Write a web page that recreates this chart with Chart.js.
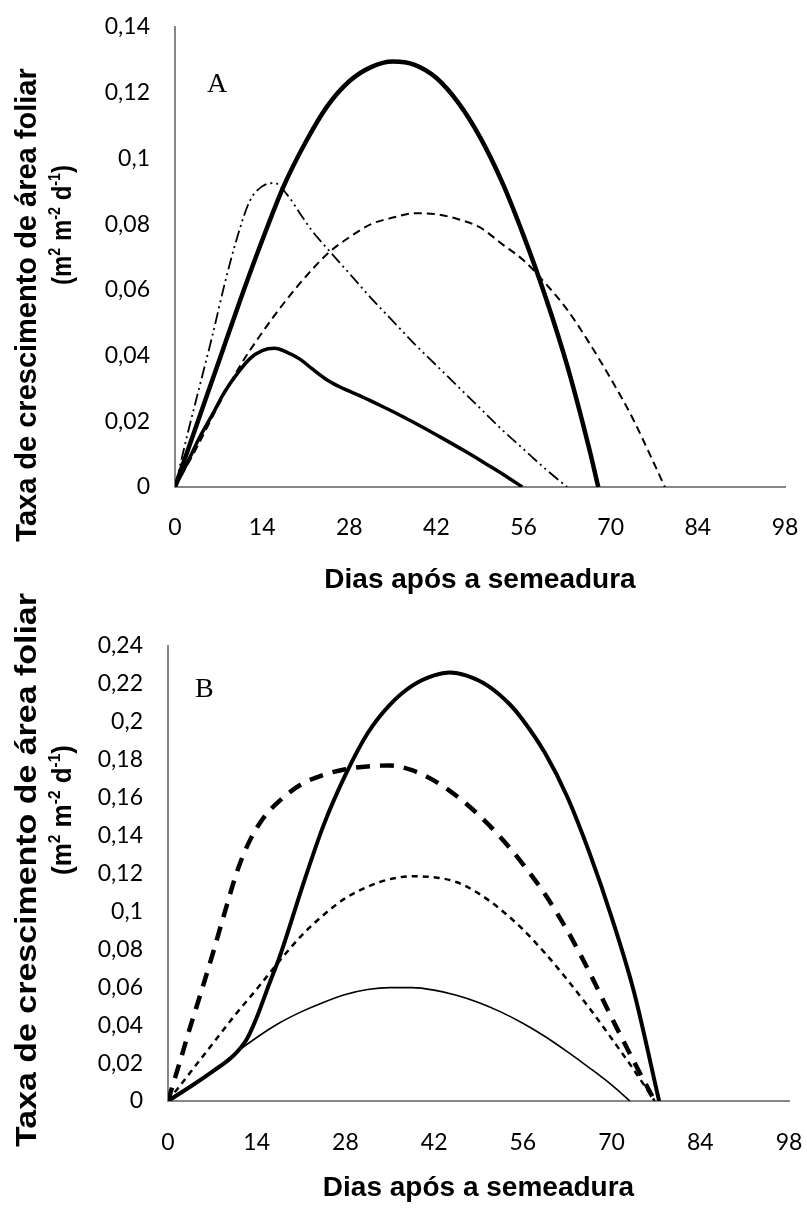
<!DOCTYPE html>
<html>
<head>
<meta charset="utf-8">
<script src="https://cdn.jsdelivr.net/npm/chart.js@4.4.1/dist/chart.umd.min.js"></script>
<style>
  body { margin: 0; background: #fff; }
  .panel { position: absolute; left: 0; width: 807px; }
  #panelA { top: 0; height: 604px; }
  #panelB { top: 560px; height: 648px; }
</style>
</head>
<body>
<div class="panel" id="panelA"><canvas id="chartA"></canvas></div>
<div class="panel" id="panelB"><canvas id="chartB"></canvas></div>
<script>
// eixos
const xTicks = [0, 14, 28, 42, 56, 70, 84, 98];
const yTickValsA = [0, 0.02, 0.04, 0.06, 0.08, 0.1, 0.12, 0.14];
const yTickLabelsA = ["0", "0,02", "0,04", "0,06", "0,08", "0,1", "0,12", "0,14"];
const yTickValsB = [0, 0.02, 0.04, 0.06, 0.08, 0.1, 0.12, 0.14, 0.16, 0.18, 0.2, 0.22, 0.24];
const yTickLabelsB = ["0", "0,02", "0,04", "0,06", "0,08", "0,1", "0,12", "0,14", "0,16", "0,18", "0,2", "0,22", "0,24"];
const xTitle = "Dias após a semeadura";
const yTitle = "Taxa de crescimento de área foliar";
// (m2 m-2 d-1) -> [texto, sobrescrito]
const yUnit = [["(m", false], ["2", true], [" m", false], ["-2", true], [" d", false], ["-1", true], [")", false]];

// Painel A
const daysA1 = [0, 3.5, 7, 10.5, 14, 17.5, 21, 24.5, 28, 31.5, 35, 38.5, 42, 45.5, 49, 52.5, 56, 59.5, 63, 66.5, 68];
const valsA1 = [0, 0.019, 0.038, 0.057, 0.075, 0.0917, 0.105, 0.116, 0.1235, 0.1278, 0.1295, 0.1285, 0.1245, 0.117, 0.1065, 0.093, 0.0765, 0.058, 0.037, 0.012, 0];
const daysA2 = [0, 3.5, 7, 10.5, 14, 17.5, 21, 24.5, 28, 31.5, 35, 38.5, 42, 45.5, 49, 52.5, 56, 59.5, 63, 66.5, 70, 73.5, 77, 78.7];
const valsA2 = [0, 0.012, 0.025, 0.037, 0.047, 0.056, 0.064, 0.071, 0.076, 0.08, 0.082, 0.0833, 0.083, 0.0815, 0.079, 0.074, 0.069, 0.062, 0.054, 0.044, 0.033, 0.021, 0.007, 0];
const daysA3 = [0, 2, 4, 6, 8, 10, 12, 14, 16, 18, 20, 22, 24.5, 28, 31.5, 35, 38.5, 42, 45.5, 49, 52.5, 56, 59.5, 63];
const valsA3 = [0, 0.016, 0.031, 0.046, 0.062, 0.076, 0.087, 0.0915, 0.0925, 0.089, 0.0835, 0.078, 0.0725, 0.065, 0.0575, 0.0505, 0.0435, 0.037, 0.0305, 0.024, 0.0175, 0.0115, 0.0055, 0];
const daysA4 = [0, 2, 4, 6, 8, 10, 12, 14, 16, 18, 20, 22, 24.5, 27, 30, 33, 36, 39.5, 43, 46.5, 50, 53, 55.8];
const valsA4 = [0, 0.0075, 0.0153, 0.022, 0.029, 0.0345, 0.039, 0.0415, 0.0422, 0.041, 0.039, 0.036, 0.0325, 0.03, 0.0275, 0.0248, 0.022, 0.0185, 0.0148, 0.011, 0.007, 0.0035, 0];

// Painel B
const daysB1 = [0, 3.5, 7, 10.5, 12.5, 14, 16, 17.5, 19, 21, 24.5, 28, 31.5, 35, 38.5, 42, 44.5, 47, 50.5, 54, 56, 59.5, 63, 66.5, 70, 73.5, 77.5];
const valsB1 = [0, 0.0075, 0.0155, 0.0245, 0.033, 0.044, 0.062, 0.075, 0.09, 0.111, 0.145, 0.172, 0.194, 0.209, 0.219, 0.2245, 0.226, 0.2245, 0.219, 0.209, 0.201, 0.1835, 0.1605, 0.131, 0.097, 0.058, 0];
const daysB2 = [0, 1, 2, 3.5, 5, 7, 9, 11, 13, 15, 17.5, 21, 24.5, 28, 31.5, 35, 38.5, 42, 45.5, 49, 52.5, 56, 59.5, 63, 66.5, 70, 73.5, 76.8];
const valsB2 = [0, 0.011, 0.022, 0.039, 0.055, 0.077, 0.1, 0.122, 0.138, 0.149, 0.158, 0.167, 0.172, 0.175, 0.1765, 0.177, 0.1745, 0.169, 0.161, 0.151, 0.139, 0.125, 0.109, 0.09, 0.068, 0.044, 0.021, 0];
const daysB3 = [0, 3.5, 7, 10.5, 14, 17.5, 21, 24.5, 28, 31.5, 35, 38.5, 42, 45.5, 49, 52.5, 56, 59.5, 63, 66.5, 70, 73.5, 76.8];
const valsB3 = [0, 0.015, 0.03, 0.045, 0.059, 0.0735, 0.087, 0.098, 0.107, 0.113, 0.117, 0.1185, 0.118, 0.1155, 0.1095, 0.101, 0.0905, 0.078, 0.064, 0.049, 0.033, 0.0165, 0];
const daysB4 = [0, 3.5, 7, 10.5, 14, 17.5, 21, 24.5, 28, 31.5, 35, 38.5, 42, 45.5, 49, 52.5, 56, 59.5, 63, 66.5, 70, 72.9];
const valsB4 = [0, 0.008, 0.0155, 0.025, 0.0335, 0.041, 0.047, 0.052, 0.0562, 0.0588, 0.0598, 0.0598, 0.0585, 0.0558, 0.052, 0.047, 0.041, 0.034, 0.026, 0.0175, 0.0085, 0];

function pts(days, vals) {
  return days.map((d, i) => ({ x: d, y: vals[i] }));
}

function serie(days, vals, width, dash) {
  return {
    data: pts(days, vals),
    borderColor: "#000",
    borderWidth: width,
    borderDash: dash,
    borderCapStyle: "butt",
    borderJoinStyle: "round",
    pointRadius: 0,
    fill: false,
    cubicInterpolationMode: "monotone",
  };
}

// letra do painel e titulo do eixo y (duas linhas, com sobrescritos)
const panelText = {
  id: "panelText",
  afterDraw(chart, args, o) {
    const ctx = chart.ctx;
    ctx.save();
    ctx.fillStyle = "#000";
    ctx.textBaseline = "alphabetic";
    ctx.font = '28px "Liberation Serif"';
    ctx.fillText(o.letter, o.letterX, o.letterY);

    ctx.textAlign = "center";
    ctx.save();
    ctx.translate(o.line1X, o.line1Y);
    ctx.rotate(-Math.PI / 2);
    ctx.scale(o.stretch, 1);
    ctx.font = 'bold 29px "Liberation Sans"';
    ctx.fillText(yTitle, 0, 0);
    ctx.restore();

    ctx.save();
    ctx.translate(o.line2X, o.line2Y);
    ctx.rotate(-Math.PI / 2);
    ctx.textAlign = "left";
    const big = 'bold 27px "Liberation Sans"';
    const small = 'bold 16px "Liberation Sans"';
    let total = 0;
    yUnit.forEach(([t, sup]) => {
      ctx.font = sup ? small : big;
      total += ctx.measureText(t).width;
    });
    ctx.scale(o.line2Len / total, 1);
    let x = -total / 2;
    yUnit.forEach(([t, sup]) => {
      ctx.font = sup ? small : big;
      ctx.fillText(t, x, sup ? -11 : 0);
      x += ctx.measureText(t).width;
    });
    ctx.restore();
    ctx.restore();
  },
};

function makeChart(id, datasets, cfg) {
  return new Chart(document.getElementById(id), {
    type: "line",
    data: { datasets: datasets },
    plugins: [panelText],
    options: {
      animation: false,
      responsive: true,
      maintainAspectRatio: false,
      devicePixelRatio: 1,
      layout: { autoPadding: false, padding: { top: cfg.top, right: cfg.right, left: 0, bottom: 0 } },
      plugins: {
        legend: { display: false },
        tooltip: { enabled: false },
        panelText: cfg.text,
      },
      scales: {
        x: {
          type: "linear",
          min: 0,
          max: 98,
          afterBuildTicks: (s) => { s.ticks = xTicks.map((v) => ({ value: v })); },
          afterFit: (s) => {
            s.height = cfg.xHeight;
            s.paddingLeft = 0;
            s.paddingRight = 0;
          },
          grid: { display: false, drawTicks: false },
          border: { display: true, color: "#868686", width: 2 },
          ticks: { color: "#000", padding: cfg.xPad, maxRotation: 0, font: { family: "Lato", size: 23 } },
          title: {
            display: true,
            text: xTitle,
            color: "#000",
            font: { family: "Liberation Sans", size: 28, weight: "bold" },
            padding: { top: 0, bottom: cfg.titlePad },
          },
        },
        y: {
          type: "linear",
          min: 0,
          max: cfg.yMax,
          afterBuildTicks: (s) => { s.ticks = cfg.yVals.map((v) => ({ value: v })); },
          afterFit: (s) => {
            s.width = cfg.left;
            s.paddingTop = 0;
            s.paddingBottom = 0;
          },
          grid: { display: false, drawTicks: false },
          border: { display: true, color: "#868686", width: 2 },
          ticks: {
            color: "#000",
            padding: 25,
            font: { family: "Lato", size: 23 },
            callback: (v, i) => cfg.yLabels[i],
          },
        },
      },
    },
  });
}

makeChart("chartA", [
  serie(daysA1, valsA1, 4.5, []),
  serie(daysA2, valsA2, 2, [8, 5]),
  serie(daysA3, valsA3, 1.8, [12, 4, 2, 4, 2, 4]),
  serie(daysA4, valsA4, 3.5, []),
], {
  top: 27, right: 22, left: 175, xHeight: 117, xPad: 27, titlePad: 7,
  yMax: 0.14, yVals: yTickValsA, yLabels: yTickLabelsA,
  text: { letter: "A", letterX: 207, letterY: 92, line1X: 36, line1Y: 305, line2X: 71, line2Y: 225, stretch: 1, line2Len: 120 },
});

makeChart("chartB", [
  serie(daysB1, valsB1, 4, []),
  serie(daysB2, valsB2, 4.5, [14, 10]),
  serie(daysB3, valsB3, 2.5, [6, 5]),
  serie(daysB4, valsB4, 1.6, []),
], {
  top: 86, right: 18, left: 168, xHeight: 107, xPad: 28, titlePad: 3,
  yMax: 0.24, yVals: yTickValsB, yLabels: yTickLabelsB,
  text: { letter: "B", letterX: 195, letterY: 137, line1X: 36, line1Y: 310, line2X: 71, line2Y: 250, stretch: 1.17, line2Len: 130 },
});
</script>
</body>
</html>
